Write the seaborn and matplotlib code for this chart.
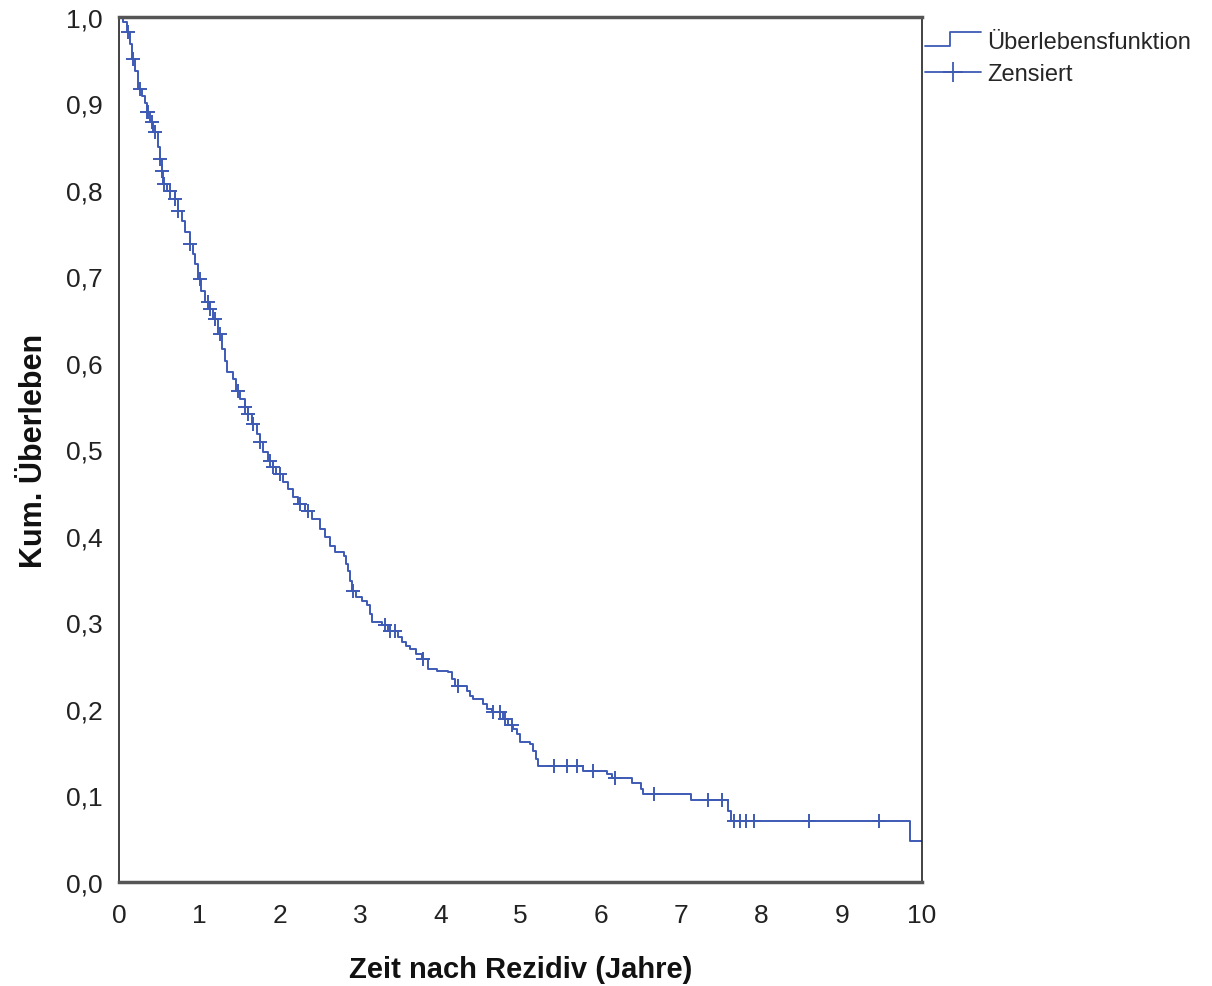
import numpy as np
import pandas as pd
import matplotlib
matplotlib.use("Agg")
import matplotlib.pyplot as plt
from matplotlib.lines import Line2D
from matplotlib.legend_handler import HandlerBase
import seaborn as sns

# ---- data ----
event_times = [0.00, 0.05, 0.10, 0.14, 0.16, 0.20, 0.24, 0.29, 0.32, 0.35, 0.39, 0.42, 0.49, 0.51,
               0.54, 0.55, 0.60, 0.70, 0.73, 0.78, 0.82, 0.88, 0.92, 0.95, 0.98, 1.02, 1.07, 1.13,
               1.17, 1.23, 1.28, 1.32, 1.34, 1.42, 1.46, 1.51, 1.57, 1.61, 1.66, 1.72, 1.76, 1.79,
               1.86, 1.92, 1.96, 2.04, 2.10, 2.17, 2.23, 2.32, 2.40, 2.50, 2.57, 2.63, 2.69, 2.80,
               2.83, 2.85, 2.88, 2.90, 2.95, 3.03, 3.09, 3.13, 3.15, 3.28, 3.35, 3.47, 3.52, 3.57,
               3.62, 3.70, 3.77, 3.85, 3.96, 4.10, 4.15, 4.18, 4.33, 4.37, 4.41, 4.53, 4.58, 4.64,
               4.78, 4.84, 4.91, 4.96, 4.99, 5.12, 5.16, 5.19, 5.22, 5.78, 6.08, 6.14, 6.39, 6.50,
               6.53, 7.12, 7.58, 7.59, 7.62, 9.85, 10.00]
survival = [1.000, 0.994, 0.983, 0.969, 0.951, 0.938, 0.917, 0.909, 0.901, 0.890, 0.879, 0.867, 0.850, 0.836,
            0.822, 0.807, 0.799, 0.790, 0.776, 0.764, 0.751, 0.738, 0.726, 0.714, 0.697, 0.683, 0.671, 0.662,
            0.651, 0.634, 0.616, 0.602, 0.590, 0.582, 0.568, 0.558, 0.549, 0.541, 0.529, 0.518, 0.509, 0.497,
            0.487, 0.480, 0.472, 0.462, 0.454, 0.445, 0.437, 0.429, 0.420, 0.408, 0.399, 0.388, 0.382, 0.377,
            0.368, 0.360, 0.348, 0.336, 0.329, 0.325, 0.320, 0.310, 0.301, 0.297, 0.290, 0.283, 0.277, 0.273,
            0.269, 0.264, 0.258, 0.246, 0.244, 0.243, 0.235, 0.227, 0.221, 0.215, 0.212, 0.206, 0.200, 0.197,
            0.188, 0.182, 0.177, 0.171, 0.162, 0.160, 0.151, 0.142, 0.134, 0.128, 0.125, 0.120, 0.114, 0.108,
            0.102, 0.095, 0.090, 0.082, 0.0705, 0.047, 0.047]
censor_times = [0.11, 0.17, 0.26, 0.35, 0.36, 0.41, 0.45, 0.51, 0.54, 0.56, 0.64, 0.70, 0.73, 0.88,
                1.01, 1.11, 1.13, 1.20, 1.26, 1.48, 1.57, 1.61, 1.67, 1.76, 1.88, 1.92, 2.00, 2.25,
                2.35, 2.91, 3.31, 3.37, 3.44, 3.79, 4.22, 4.66, 4.74, 4.81, 4.89, 5.42, 5.58, 5.70,
                5.90, 6.18, 6.66, 7.33, 7.51, 7.66, 7.73, 7.81, 7.91, 8.59, 9.46]
x_ticks = [0, 1, 2, 3, 4, 5, 6, 7, 8, 9, 10]
y_ticks = [0.0, 0.1, 0.2, 0.3, 0.4, 0.5, 0.6, 0.7, 0.8, 0.9, 1.0]
y_tick_labels = ["0,0", "0,1", "0,2", "0,3", "0,4", "0,5", "0,6", "0,7", "0,8", "0,9", "1,0"]
x_label = "Zeit nach Rezidiv (Jahre)"
y_label = "Kum. Überleben"
legend_labels = ["Überlebensfunktion", "Zensiert"]

BLUE = "#3d5ab4"

sns.set_theme(style="white")
FONT = ["Liberation Sans", "DejaVu Sans"]
plt.rcParams["font.family"] = FONT

curve = pd.DataFrame({"t": event_times, "S": survival})
idx = np.searchsorted(np.array(event_times), np.array(censor_times), side="right") - 1
cens = pd.DataFrame({"t": censor_times, "S": np.array(survival)[idx]})

fig = plt.figure(figsize=(12.12, 9.87), dpi=100)
ax = fig.add_axes([0.0982, 0.1054, 0.6625, 0.8764])

sns.lineplot(data=curve, x="t", y="S", ax=ax, color=BLUE, linewidth=1.4,
             drawstyle="steps-post", sort=False, estimator=None)
sns.scatterplot(data=cens, x="t", y="S", ax=ax, marker="+", s=90, color=BLUE,
                linewidth=1.4, zorder=3)

ax.set_xlim(0, 10)
ax.set_ylim(0, 1.0)
ax.set_xticks(x_ticks)
ax.set_xticklabels([str(v) for v in x_ticks])
ax.set_yticks(y_ticks)
ax.set_yticklabels(y_tick_labels)
ax.tick_params(axis="both", direction="out", length=9, width=1.2, colors="#222222",
               labelsize=19, labelcolor="#222222")
ax.tick_params(axis="x", pad=6)
ax.tick_params(axis="y", pad=3)
ax.set_xlabel(x_label, fontsize=21, fontweight="bold", labelpad=20, color="#111111")
ax.set_ylabel(y_label, fontsize=22, fontweight="bold", labelpad=12, color="#111111")

for side in ["left", "right"]:
    ax.spines[side].set_color("#222222")
    ax.spines[side].set_linewidth(1.2)
for side in ["top", "bottom"]:
    ax.spines[side].set_color("#555555")
    ax.spines[side].set_linewidth(2.5)


class HandlerStep(HandlerBase):
    def create_artists(self, legend, orig_handle, xdescent, ydescent, width, height, fontsize, trans):
        xs = [-xdescent, -xdescent + width * 0.45, -xdescent + width * 0.45, -xdescent + width]
        y0 = -ydescent + height * 0.1
        y1 = -ydescent + height * 0.95
        ys = [y0, y0, y1, y1]
        ln = Line2D(xs, ys, color=orig_handle.get_color(), linewidth=orig_handle.get_linewidth(),
                    transform=trans)
        return [ln]


h1 = Line2D([], [], color=BLUE, linewidth=1.3)
h2 = Line2D([], [], color=BLUE, linewidth=1.3, marker="+", markersize=14, markeredgewidth=1.3)
fig.legend([h1, h2], legend_labels, loc="upper left", bbox_to_anchor=(0.757, 0.975),
           frameon=False, fontsize=17, handlelength=2.4, handletextpad=0.25,
           labelspacing=0.45, borderaxespad=0.0, borderpad=0.3,
           handler_map={h1: HandlerStep()})

fig.savefig("out.png", dpi=100)
